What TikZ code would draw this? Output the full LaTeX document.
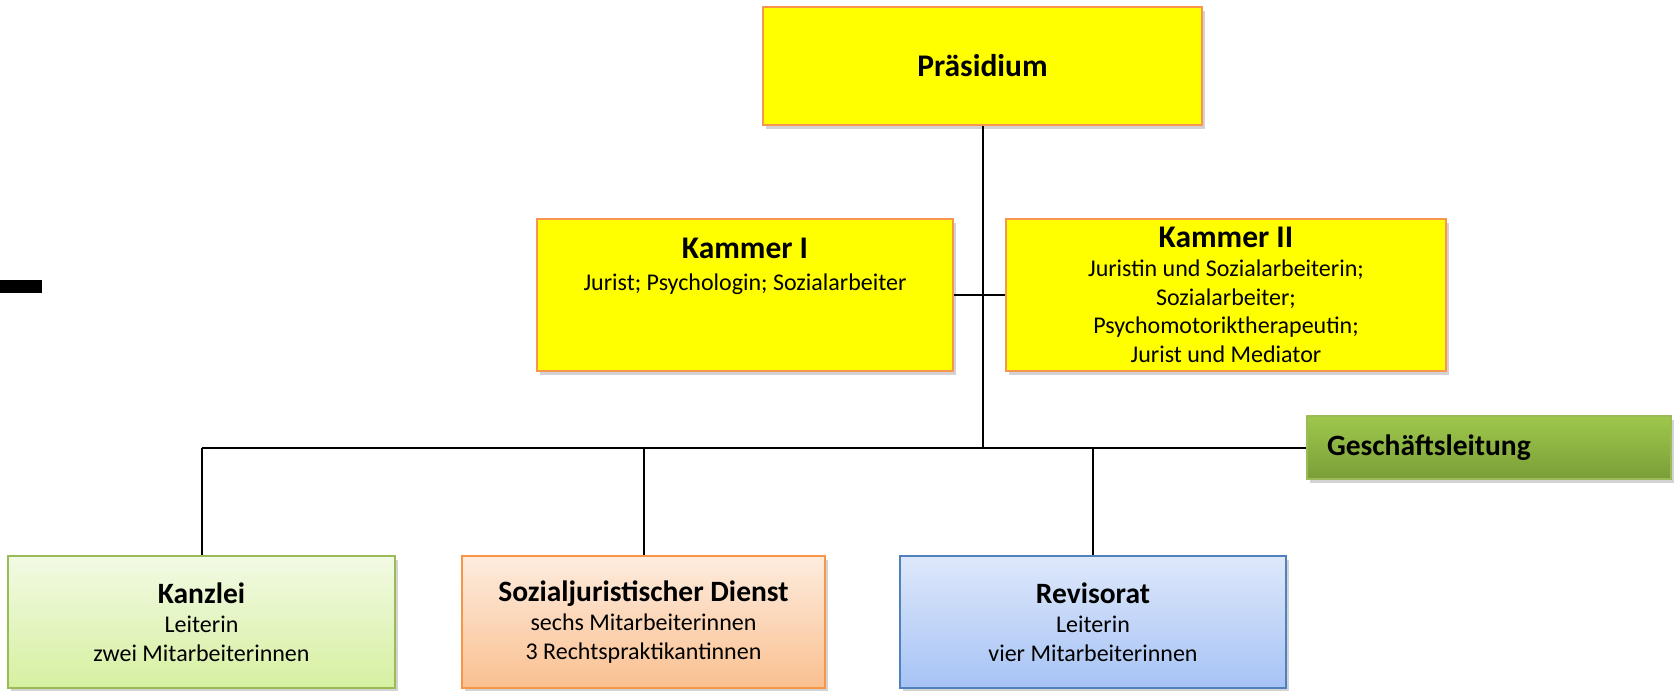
\documentclass[tikz,border=0pt]{standalone}
\usepackage{fontspec}
\setmainfont{Carlito}
\usetikzlibrary{positioning,shadows}
\newcommand{\headname}[1]{{\fontsize{31.5}{31.5}\selectfont\bfseries #1}}
\newcommand{\unitname}[1]{{\fontsize{29.5}{29.5}\selectfont\bfseries #1}}
\definecolor{boxYellow}{RGB}{255,255,0}
\definecolor{edgeOrange}{RGB}{248,150,80}
\definecolor{kanzTop}{RGB}{242,250,228}
\definecolor{kanzBot}{RGB}{214,240,160}
\definecolor{kanzEdge}{RGB}{155,187,89}
\definecolor{sozTop}{RGB}{253,236,222}
\definecolor{sozBot}{RGB}{250,192,144}
\definecolor{sozEdge}{RGB}{247,150,70}
\definecolor{revTop}{RGB}{222,232,250}
\definecolor{revBot}{RGB}{166,195,245}
\definecolor{revEdge}{RGB}{79,129,189}
\definecolor{glTop}{RGB}{158,200,76}
\definecolor{glBot}{RGB}{122,158,56}

\begin{document}
\begin{tikzpicture}[x=1pt, y=1pt,
    every node/.style={font=\fontsize{24}{28.7}\selectfont},
    yellowbox/.style={draw=edgeOrange, line width=2pt, rectangle,
                inner sep=0pt, fill=boxYellow, align=center,
                drop shadow={shadow xshift=3pt, shadow yshift=-4pt, opacity=0.35}},
    unitbox/.style={draw, line width=2pt, rectangle, inner sep=0pt,
                minimum height=132pt, align=center,
                drop shadow={shadow xshift=3pt, shadow yshift=-4pt, opacity=0.35}},
    glbox/.style={draw=kanzEdge, line width=1.5pt, rectangle,
                top color=glTop, bottom color=glBot,
                inner xsep=20pt, inner ysep=0pt, text width=324pt,
                minimum height=63pt, align=left,
                font=\fontsize{29.5}{29.5}\selectfont\bfseries,
                drop shadow={shadow xshift=3pt, shadow yshift=-4pt, opacity=0.35}},
    conn/.style={line width=2pt, draw=black}
  ]
    \useasboundingbox (0,0) rectangle (1674,-691);

    % Top
    \node[yellowbox, minimum width=439pt, minimum height=118pt] (praes) at (982.5,-66)
      {\headname{Präsidium}};

    % Kammern
    \node[yellowbox, minimum width=416pt, minimum height=152pt,
          label={[font=\fontsize{24}{28.7}\selectfont, align=center, anchor=north,
                  inner sep=0pt, yshift=-20pt]north:{\headname{Kammer I}\\[3pt]Jurist; Psychologin; Sozialarbeiter}}]
      (k1) at (745,-295) {};
    \node[yellowbox, minimum width=440pt, minimum height=152pt] (k2) at (1226,-295)
      {\headname{Kammer II}\\Juristin und Sozialarbeiterin;\\Sozialarbeiter;\\Psychomotoriktherapeutin;\\Jurist und Mediator};

    % Staff
    \node[glbox] (gl) at (1489,-447.5) {Geschäftsleitung};

    % Units
    \node[unitbox, draw=kanzEdge, top color=kanzTop, bottom color=kanzBot,
          minimum width=387pt] (kanzlei) at (201.5,-622)
      {\unitname{Kanzlei}\\[1pt]Leiterin\\zwei Mitarbeiterinnen};
    \node[unitbox, draw=sozEdge, top color=sozTop, bottom color=sozBot,
          minimum width=363pt] (sozial) at (643.5,-622)
      {\unitname{Sozialjuristischer Dienst}\\[1pt]sechs Mitarbeiterinnen\\3 Rechtspraktikantinnen};
    \node[unitbox, draw=revEdge, top color=revTop, bottom color=revBot,
          minimum width=386pt] (revis) at (1093,-622)
      {\unitname{Revisorat}\\[1pt]Leiterin\\vier Mitarbeiterinnen};

    % Spine and bus
    \draw[conn] (praes.south) -- (praes.south |- gl.west);
    \draw[conn] (k1.east) -- (k2.west);
    \draw[conn] (kanzlei.north |- gl.west) -- (gl.west);
    \draw[conn] (kanzlei.north |- gl.west) -- (kanzlei.north);
    \draw[conn] (sozial.north |- gl.west) -- (sozial.north);
    \draw[conn] (revis.north |- gl.west) -- (revis.north);

    % Left bar
    \fill[black] (0,-280) rectangle (42,-293);
  \end{tikzpicture}
\end{document}
